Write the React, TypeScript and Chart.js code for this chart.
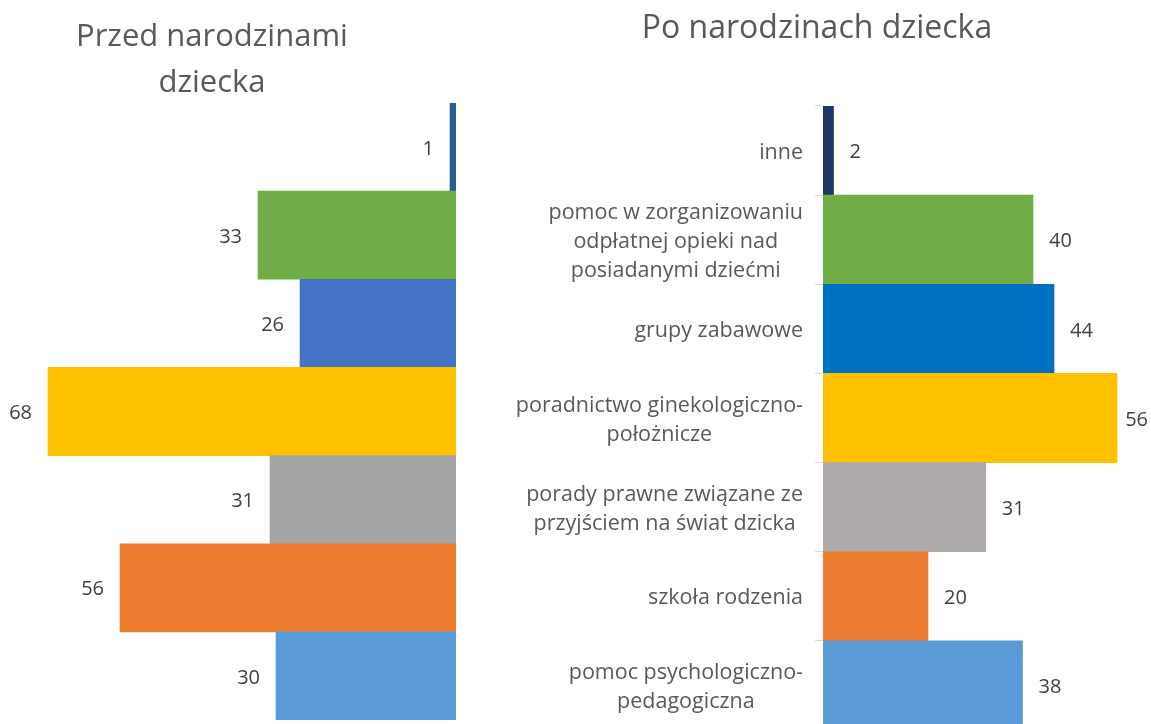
import React, { useEffect, useRef } from "react";
import { Chart, registerables } from "chart.js";

Chart.register(...registerables);

const categories: string[][] = [
  ["inne"],
  ["pomoc w zorganizowaniu", "odpłatnej opieki nad", "posiadanymi dziećmi"],
  ["grupy zabawowe"],
  ["poradnictwo ginekologiczno-", "położnicze"],
  ["porady prawne związane ze", "przyjściem na świat dzicka"],
  ["szkoła rodzenia"],
  ["pomoc psychologiczno-", "pedagogiczna"],
];
const beforeValues = [1, 33, 26, 68, 31, 56, 30];
const afterValues = [2, 40, 44, 56, 31, 20, 38];
const beforeColors = ["#255E91", "#70AD47", "#4472C4", "#FFC000", "#A5A5A5", "#ED7D31", "#5B9BD5"];
const afterColors = ["#203864", "#70AD47", "#0070C0", "#FFC000", "#AEAAAA", "#ED7D31", "#5B9BD5"];
const titleBefore = ["Przed narodzinami", "dziecka"];
const titleAfter = "Po narodzinach dziecka";

const FONT = "'Open Sans', sans-serif";

const valueLabels = (side: "left" | "right") => ({
  id: "valueLabels_" + side,
  afterDatasetsDraw(chart: any) {
    const ctx = chart.ctx;
    const meta = chart.getDatasetMeta(0);
    const data = chart.data.datasets[0].data;
    ctx.save();
    ctx.font = "20px " + FONT;
    ctx.fillStyle = "#404040";
    ctx.textBaseline = "middle";
    meta.data.forEach((bar: any, i: number) => {
      const txt = String(data[i]);
      if (side === "left") {
        ctx.textAlign = "right";
        ctx.fillText(txt, bar.x - 16, bar.y + 2);
      } else {
        ctx.textAlign = "left";
        const w = ctx.measureText(txt).width;
        let x = bar.x + 16;
        const maxRight = chart.width - 3;
        if (x + w > maxRight) x = maxRight - w;
        ctx.fillText(txt, x, bar.y + 2);
      }
    });
    ctx.restore();
  },
});

const categoryLabels = {
  id: "categoryLabels",
  afterDraw(chart: any) {
    const ctx = chart.ctx;
    const scale = chart.scales.y;
    const right = chart.chartArea.left - 20;
    const lh = 29;
    ctx.save();
    ctx.font = "21.5px " + FONT;
    ctx.fillStyle = "#595959";
    ctx.textBaseline = "middle";
    ctx.textAlign = "center";
    (chart.data.labels as string[][]).forEach((lines, i) => {
      const cy = scale.getPixelForValue(i) + 2;
      const w = Math.max(...lines.map((l) => ctx.measureText(l).width));
      const cx = right - w / 2;
      lines.forEach((l, j) => {
        ctx.fillText(l, cx, cy - ((lines.length - 1) * lh) / 2 + j * lh);
      });
    });
    ctx.restore();
  },
};

export default function App() {
  const leftRef = useRef<HTMLCanvasElement>(null);
  const rightRef = useRef<HTMLCanvasElement>(null);

  useEffect(() => {
    document.body.style.margin = "0";
    const left = new Chart(leftRef.current!, {
      type: "bar",
      data: {
        labels: categories,
        datasets: [
          {
            data: beforeValues,
            backgroundColor: beforeColors,
            barPercentage: 1,
            categoryPercentage: 1,
            borderWidth: 0,
          },
        ],
      },
      options: {
        indexAxis: "y",
        animation: false,
        responsive: false,
        devicePixelRatio: 1,
        layout: { padding: { left: 6, right: 14, top: 103, bottom: 4 } },
        plugins: { legend: { display: false }, tooltip: { enabled: false }, title: { display: false } },
        scales: {
          x: { display: false, reverse: true, min: 0, max: 75 },
          y: { display: false },
        },
      },
      plugins: [valueLabels("left")],
    });

    const right = new Chart(rightRef.current!, {
      type: "bar",
      data: {
        labels: categories,
        datasets: [
          {
            data: afterValues,
            backgroundColor: afterColors,
            barPercentage: 1,
            categoryPercentage: 1,
            borderWidth: 0,
          },
        ],
      },
      options: {
        indexAxis: "y",
        animation: false,
        responsive: false,
        devicePixelRatio: 1,
        layout: { padding: { left: 0, right: 13, top: 106, bottom: 0 } },
        plugins: { legend: { display: false }, tooltip: { enabled: false }, title: { display: false } },
        scales: {
          x: { display: false, min: 0, max: 60 },
          y: {
            display: true,
            afterFit: (s: any) => {
              s.width = 353;
            },
            ticks: { display: false },
            grid: {
              offset: true,
              drawOnChartArea: false,
              drawTicks: true,
              tickLength: 8,
              color: "#D9D9D9",
              lineWidth: 1,
            },
            border: { display: true, color: "#D9D9D9", width: 1 },
          },
        },
      },
      plugins: [categoryLabels, valueLabels("right")],
    });

    return () => {
      left.destroy();
      right.destroy();
    };
  }, []);

  const titleStyle: React.CSSProperties = {
    position: "absolute",
    fontFamily: FONT,
    fontSize: 31,
    lineHeight: "46px",
    color: "#595959",
    textAlign: "center",
    whiteSpace: "nowrap",
  };

  return (
    <div style={{ position: "relative", width: 1151, height: 724, overflow: "hidden", background: "#fff" }}>
      <canvas ref={leftRef} width={470} height={724} style={{ position: "absolute", left: 0, top: 0 }} />
      <canvas ref={rightRef} width={681} height={730} style={{ position: "absolute", left: 470, top: 0 }} />
      <div style={{ ...titleStyle, left: 12, width: 400, top: 11 }}>
        {titleBefore.map((t, i) => (
          <div key={i}>{t}</div>
        ))}
      </div>
      <div style={{ ...titleStyle, fontSize: 32, left: 617, width: 400, top: 3 }}>{titleAfter}</div>
    </div>
  );
}
